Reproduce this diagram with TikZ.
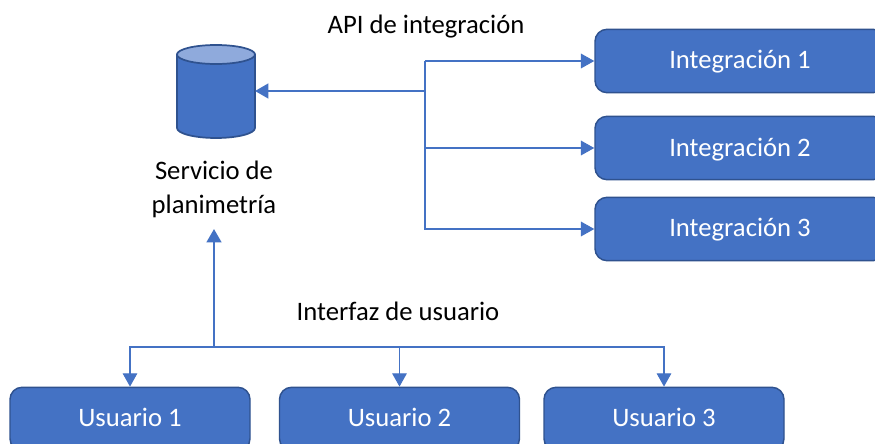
\documentclass[tikz,border=0pt]{standalone}
\usepackage{fontspec}
\setmainfont{Carlito}
\usetikzlibrary{arrows.meta}
\definecolor{boxfill}{HTML}{4472C4}
\definecolor{boxedge}{HTML}{2F528F}
\definecolor{capfill}{HTML}{8FAADC}
\tikzset{
  blockbox/.style={draw=boxedge,line width=1.1pt,fill=boxfill,rounded corners=9pt,minimum height=47.5pt,text=white,font=\fontsize{20}{22}\selectfont,inner sep=0pt,text depth=0pt},
  intbox/.style={blockbox,minimum width=217.5pt},
  usrbox/.style={blockbox,minimum width=180pt,text height=11.6pt},
  label/.style={text=black,font=\fontsize{20}{22}\selectfont,inner sep=0pt},
  thin link/.style={draw=boxfill,line width=0.8pt},
  thick link/.style={draw=boxfill,line width=1.7pt},
  tip/.style={-{Triangle[length=10pt,width=11pt]}},
  dbshape/.style={draw=boxedge,line width=1.3pt}
}
\begin{document}
\begin{tikzpicture}[x=0.75pt,y=-0.75pt]
\useasboundingbox (0,0) rectangle (875,443);
\clip (0,0) rectangle (875,443);
\fill[white] (0,0) rectangle (875,443);
\node[intbox,text height=11pt] (i1) at (740,61) {Integración 1};
\node[intbox,text height=12pt] (i2) at (740,148) {Integración 2};
\node[intbox,text height=10.5pt] (i3) at (740,229) {Integración 3};
\node[usrbox] (u1) at (130,419) {Usuario 1};
\node[usrbox] (u2) at (399.5,419) {Usuario 2};
\node[usrbox] (u3) at (664,419) {Usuario 3};
\node[minimum width=58.5pt,minimum height=70pt,inner sep=0pt,outer sep=0pt] (db) at (216,91.5) {};
\draw[dbshape,fill=boxfill] (177,54.5) -- (177,128) arc[start angle=180,end angle=0,x radius=39,y radius=10] -- (255,54.5) -- cycle;
\draw[dbshape,fill=capfill] (216,54.5) ellipse[x radius=39,y radius=9.5];
\node[label] (api) at (426,26.5) {API de integración};
\node[label] (ui) at (398,311) {Interfaz de usuario};
\node[label] (svca) at (214,170) {Servicio de};
\node[label] (svcb) at (214,206) {planimetría};
\coordinate (apihub) at (425,91);
\coordinate (uihub) at (214,347);
\coordinate (svcin) at (214,229);
\draw[thin link] (apihub) -- (425,61);
\draw[thin link,tip] (425,61) -- (i1.west |- 425,61);
\draw[thin link,tip] (apihub) |- (i2.west);
\draw[thin link,tip] (apihub) |- (i3.west);
\draw[thick link,tip] (apihub) -- (db.east |- apihub);
\draw[thick link,tip] (uihub) -- (svcin);
\draw[thin link,tip] (uihub) -| (u1.north);
\draw[thin link,tip] (uihub) -| (u2.north);
\draw[thin link,tip] (uihub) -| (u3.north);
\end{tikzpicture}
\end{document}
